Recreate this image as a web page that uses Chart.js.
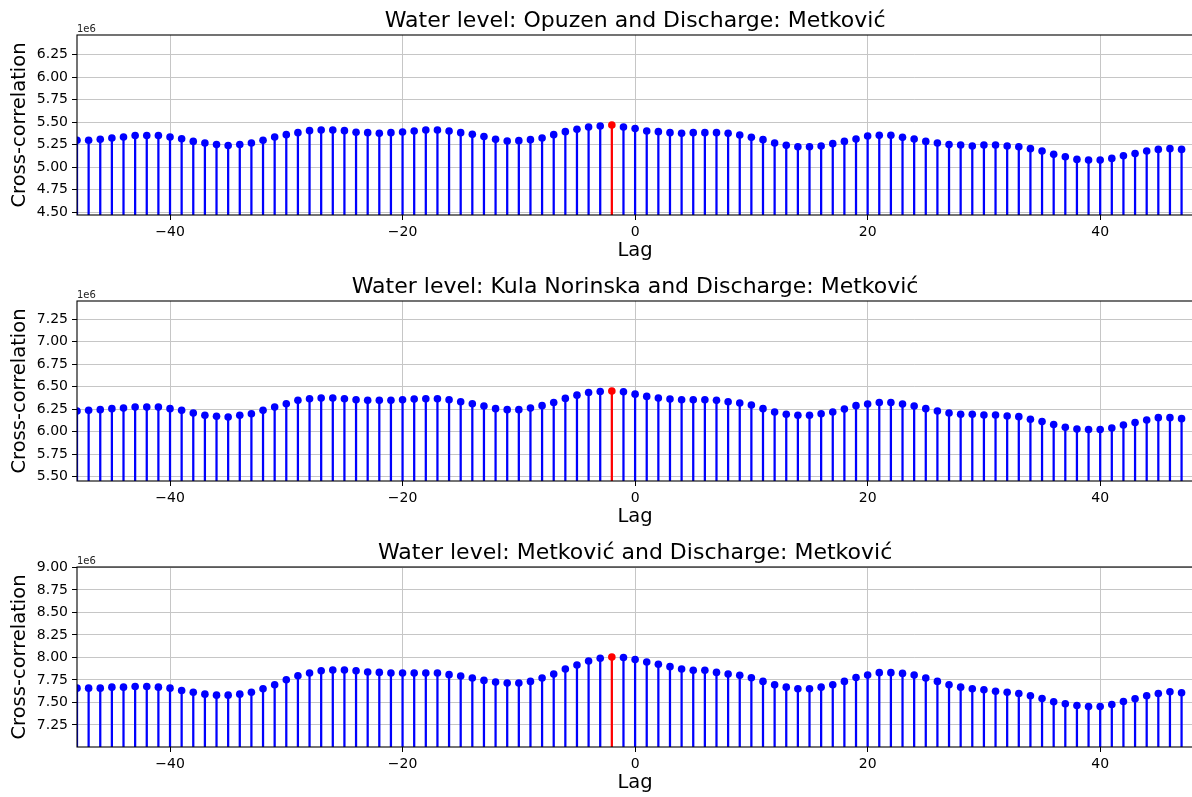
<!DOCTYPE html>
<html>
<head>
<meta charset="utf-8">
<title>Cross-correlation: water level vs discharge</title>
<script src="https://cdn.jsdelivr.net/npm/chart.js@4.4.1/dist/chart.umd.min.js"></script>
<style>
  html, body { margin: 0; padding: 0; background: #fff; overflow: hidden; }
  #page { position: relative; width: 1192px; height: 797px; overflow: hidden; }
  .panel { position: absolute; left: 0; width: 1197px; height: 266px; }
  .panel canvas { display: block; width: 1197px; height: 266px; }
</style>
</head>
<body>
<div id="page">
  <div class="panel" style="top:0px"><canvas id="ccOpuzen" width="1197" height="266"></canvas></div>
  <div class="panel" style="top:266px"><canvas id="ccKula" width="1197" height="266"></canvas></div>
  <div class="panel" style="top:532px"><canvas id="ccMetkovic" width="1197" height="266"></canvas></div>
</div>
<script>
// lags -48 .. 47
const lags = Array.from({ length: 96 }, (_, i) => i - 48);
const xTicks = [-40, -20, 0, 20, 40];

// cross-correlation per lag, in units of 1e6
const ccOpuzen = [
  5.298, 5.298, 5.309, 5.323, 5.334, 5.350, 5.350, 5.350, 5.334, 5.316, 5.286, 5.268, 5.250, 5.239,
  5.250, 5.268, 5.298, 5.334, 5.361, 5.383, 5.405, 5.412, 5.412, 5.405, 5.387, 5.383, 5.375, 5.383,
  5.390, 5.401, 5.412, 5.412, 5.401, 5.383, 5.364, 5.339, 5.309, 5.290, 5.294, 5.305, 5.323, 5.361,
  5.394, 5.420, 5.445, 5.457, 5.468, 5.445, 5.428, 5.401, 5.394, 5.383, 5.375, 5.383, 5.383, 5.383,
  5.375, 5.357, 5.331, 5.305, 5.268, 5.242,
  5.227, 5.227, 5.234, 5.261, 5.286, 5.312, 5.345, 5.353, 5.353, 5.331, 5.312, 5.286, 5.268, 5.250,
  5.245, 5.234, 5.245, 5.245, 5.234, 5.227, 5.205, 5.179, 5.142, 5.116, 5.086, 5.078, 5.078, 5.097,
  5.127, 5.150, 5.179, 5.197, 5.205, 5.197
];
const ccKula = [
  6.229, 6.237, 6.245, 6.256, 6.262, 6.273, 6.273, 6.273, 6.256, 6.237, 6.207, 6.182, 6.171, 6.163,
  6.182, 6.200, 6.237, 6.273, 6.311, 6.348, 6.366, 6.373, 6.373, 6.366, 6.355, 6.348, 6.348, 6.348,
  6.355, 6.362, 6.366, 6.366, 6.355, 6.333, 6.311, 6.285, 6.256, 6.245, 6.245, 6.262, 6.289, 6.325,
  6.370, 6.406, 6.436, 6.447, 6.452, 6.444, 6.417, 6.392, 6.373, 6.362, 6.355, 6.355, 6.355, 6.348,
  6.333, 6.318, 6.296, 6.256, 6.218, 6.193,
  6.182, 6.182, 6.200, 6.218, 6.251, 6.289, 6.307, 6.325, 6.325, 6.307, 6.285, 6.256, 6.229, 6.207,
  6.193, 6.193, 6.185, 6.185, 6.174, 6.167, 6.138, 6.112, 6.079, 6.049, 6.030, 6.024, 6.024, 6.041,
  6.075, 6.101, 6.130, 6.156, 6.156, 6.145
];
const ccMetkovic = [
  7.659, 7.659, 7.659, 7.670, 7.670, 7.678, 7.678, 7.670, 7.659, 7.633, 7.614, 7.592, 7.581, 7.581,
  7.592, 7.614, 7.652, 7.697, 7.753, 7.797, 7.827, 7.853, 7.860, 7.860, 7.853, 7.838, 7.834, 7.827,
  7.827, 7.827, 7.827, 7.827, 7.809, 7.793, 7.771, 7.745, 7.726, 7.715, 7.715, 7.734, 7.771, 7.815,
  7.871, 7.916, 7.961, 7.991, 8.005, 7.999, 7.976, 7.949, 7.924, 7.898, 7.871, 7.857, 7.857, 7.834,
  7.815, 7.801, 7.775, 7.734, 7.697, 7.670,
  7.652, 7.652, 7.670, 7.697, 7.734, 7.778, 7.804, 7.831, 7.831, 7.823, 7.804, 7.771, 7.734, 7.697,
  7.670, 7.652, 7.641, 7.625, 7.614, 7.600, 7.574, 7.544, 7.507, 7.485, 7.466, 7.454, 7.454, 7.477,
  7.510, 7.541, 7.574, 7.600, 7.619, 7.608
];

const yTicksOpuzen = [4.50, 4.75, 5.00, 5.25, 5.50, 5.75, 6.00, 6.25];
const yTicksKula = [5.50, 5.75, 6.00, 6.25, 6.50, 6.75, 7.00, 7.25];
const yTicksMetkovic = [7.25, 7.50, 7.75, 8.00, 8.25, 8.50, 8.75, 9.00];

Chart.defaults.font.family = '"DejaVu Sans", sans-serif';
Chart.defaults.color = '#000';

const GRID = '#c6c6c6';

// axes frame (matplotlib-like spines) plus the "1e6" offset label
const framePlugin = {
  id: 'frame',
  afterDraw(chart, args, opts) {
    const { ctx, chartArea: a } = chart;
    ctx.save();
    ctx.strokeStyle = '#000';
    ctx.lineWidth = 1.1;
    ctx.strokeRect(a.left, a.top, a.right - a.left, a.bottom - a.top);
    ctx.fillStyle = '#222';
    ctx.font = '10px "DejaVu Sans"';
    ctx.textAlign = 'left';
    ctx.textBaseline = 'alphabetic';
    ctx.fillText(opts.offsetText, a.left, a.top - 3.5);
    ctx.restore();
  }
};

const fmtLag = v => (v < 0 ? '\u2212' + Math.abs(v) : String(v));

function drawPanel(id, title, values, yTicks) {
  const peak = Math.max(...values);
  const peakIdx = values.indexOf(peak);
  const colors = values.map((_, i) => (i === peakIdx ? '#ff0000' : '#0000ff'));
  const points = lags.map((x, i) => ({ x, y: values[i] }));

  new Chart(document.getElementById(id), {
    type: 'bar',
    data: {
      datasets: [
        {
          type: 'line',
          data: points,
          showLine: false,
          pointRadius: 3.8,
          pointHoverRadius: 3.8,
          pointBackgroundColor: colors,
          pointBorderWidth: 0,
          order: 0,
          clip: 0
        },
        {
          type: 'bar',
          data: points,
          backgroundColor: colors,
          barThickness: 1.6,
          order: 1,
          clip: 0
        }
      ]
    },
    options: {
      responsive: false,
      animation: false,
      events: [],
      layout: { padding: 0 },
      plugins: {
        legend: { display: false },
        tooltip: { enabled: false },
        title: {
          display: true,
          text: title,
          fullSize: false,
          color: '#000',
          font: { size: 22, weight: 'normal', lineHeight: 1.2 },
          padding: { top: 8, bottom: 0.6 }
        },
        frame: { offsetText: '1e6' }
      },
      scales: {
        x: {
          type: 'linear',
          min: -48,
          max: 48,
          offset: false,
          afterBuildTicks: s => { s.ticks = xTicks.map(v => ({ value: v })); },
          afterFit: s => { s.height = 51; },
          grid: { color: GRID, lineWidth: 1, tickColor: '#000', tickLength: 5, offset: false },
          border: { display: false },
          ticks: { color: '#000', font: { size: 14 }, padding: 4, maxRotation: 0, callback: v => fmtLag(v) },
          title: {
            display: true,
            text: 'Lag',
            color: '#000',
            font: { size: 19.5, lineHeight: 1.2 },
            padding: { top: 0, bottom: 3.1 }
          }
        },
        y: {
          min: peak - 1,
          max: peak + 1,
          afterBuildTicks: s => { s.ticks = yTicks.map(v => ({ value: v })); },
          afterFit: s => { s.width = 77; },
          grid: { color: GRID, lineWidth: 1, tickColor: '#000', tickLength: 5 },
          border: { display: false },
          ticks: { color: '#000', font: { size: 14 }, padding: 4, callback: v => v.toFixed(2) },
          title: {
            display: true,
            text: 'Cross-correlation',
            color: '#000',
            font: { size: 19.5, lineHeight: 1.2 },
            padding: { top: 8.4, bottom: 0 }
          }
        }
      }
    },
    plugins: [framePlugin]
  });
}

drawPanel('ccOpuzen', 'Water level: Opuzen and Discharge: Metković', ccOpuzen, yTicksOpuzen);
drawPanel('ccKula', 'Water level: Kula Norinska and Discharge: Metković', ccKula, yTicksKula);
drawPanel('ccMetkovic', 'Water level: Metković and Discharge: Metković', ccMetkovic, yTicksMetkovic);
</script>
</body>
</html>
